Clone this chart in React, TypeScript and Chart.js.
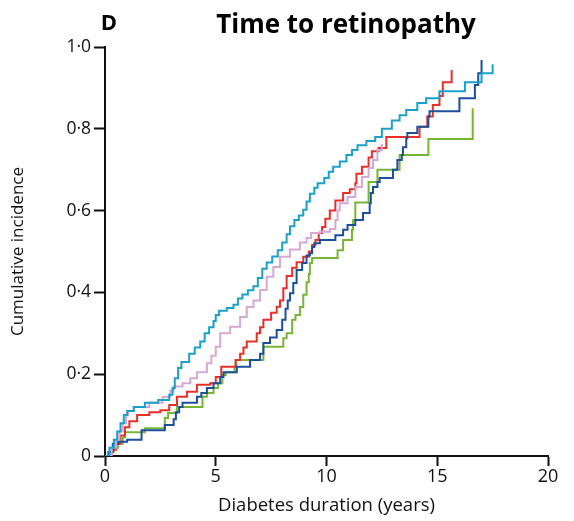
import React, { useEffect, useRef } from 'react';
import { Chart, registerables } from 'chart.js';

Chart.register(...registerables);

// Cumulative incidence step curves: jump times (years) and the value reached at each jump
const cyanTimes = [0, 0.2, 0.4, 0.55, 0.7, 0.85, 1.0, 1.3, 1.8, 2.4, 2.9, 3.05, 3.15, 3.3, 3.45, 3.8, 4.05, 4.3, 4.5, 4.7, 4.9, 5.0, 5.15, 5.5, 5.8, 6.0, 6.2, 6.45, 6.7, 6.9, 7.1, 7.3, 7.55, 7.8, 8.0, 8.2, 8.35, 8.55, 8.75, 8.95, 9.1, 9.25, 9.45, 9.6, 9.9, 10.1, 10.3, 10.6, 10.9, 11.15, 11.4, 11.8, 12.2, 12.5, 12.95, 13.3, 13.6, 14.1, 14.5, 15.1, 16.25, 17.0, 17.5];
const cyanValues = [0, 0.02, 0.04, 0.06, 0.08, 0.1, 0.11, 0.12, 0.13, 0.137, 0.15, 0.166, 0.19, 0.215, 0.23, 0.25, 0.265, 0.28, 0.3, 0.315, 0.33, 0.345, 0.355, 0.362, 0.37, 0.385, 0.395, 0.405, 0.415, 0.435, 0.458, 0.473, 0.488, 0.503, 0.522, 0.542, 0.562, 0.577, 0.588, 0.602, 0.622, 0.641, 0.656, 0.667, 0.68, 0.695, 0.707, 0.72, 0.736, 0.748, 0.76, 0.77, 0.78, 0.8, 0.82, 0.833, 0.846, 0.863, 0.875, 0.892, 0.914, 0.936, 0.958];

const pinkTimes = [0, 0.3, 0.5, 0.65, 0.8, 0.95, 1.05, 1.3, 2.0, 2.6, 2.95, 3.1, 3.5, 3.85, 4.15, 4.6, 4.8, 5.0, 5.2, 5.65, 6.1, 6.4, 6.7, 7.0, 7.3, 7.6, 7.9, 8.35, 8.8, 9.1, 9.3, 9.7, 10.15, 10.4, 10.5, 10.6, 10.95, 11.3, 11.6, 11.9, 12.1, 12.3, 12.5];
const pinkValues = [0, 0.02, 0.04, 0.06, 0.08, 0.1, 0.11, 0.12, 0.13, 0.144, 0.16, 0.17, 0.178, 0.19, 0.205, 0.227, 0.245, 0.267, 0.3, 0.316, 0.34, 0.364, 0.38, 0.406, 0.438, 0.462, 0.487, 0.505, 0.522, 0.533, 0.545, 0.548, 0.555, 0.577, 0.6, 0.618, 0.633, 0.658, 0.682, 0.704, 0.724, 0.748, 0.763];

const redTimes = [0, 0.3, 0.5, 0.7, 0.9, 1.1, 1.45, 2.0, 2.5, 2.9, 3.25, 3.7, 4.15, 4.75, 5.0, 5.25, 5.9, 6.1, 6.25, 6.4, 6.85, 7.0, 7.15, 7.5, 7.75, 7.9, 8.05, 8.2, 8.45, 8.65, 8.95, 9.2, 9.35, 9.5, 9.65, 9.8, 9.95, 10.15, 10.4, 10.75, 11.05, 11.3, 11.35, 11.6, 11.9, 12.05, 12.35, 12.7, 14.2, 14.55, 14.8, 15.1, 15.25, 15.65];
const redValues = [0, 0.015, 0.03, 0.05, 0.07, 0.085, 0.1, 0.107, 0.112, 0.125, 0.145, 0.157, 0.174, 0.178, 0.193, 0.218, 0.235, 0.25, 0.265, 0.28, 0.3, 0.315, 0.333, 0.35, 0.365, 0.38, 0.41, 0.44, 0.46, 0.474, 0.487, 0.5, 0.516, 0.528, 0.545, 0.56, 0.58, 0.6, 0.625, 0.643, 0.652, 0.667, 0.69, 0.707, 0.73, 0.745, 0.753, 0.78, 0.805, 0.83, 0.858, 0.88, 0.914, 0.944];

const navyTimes = [0, 0.15, 0.35, 0.6, 1.0, 1.65, 2.7, 3.1, 3.2, 3.35, 3.5, 4.15, 4.35, 4.6, 4.9, 5.2, 5.35, 5.95, 6.55, 7.0, 7.15, 7.45, 7.75, 8.0, 8.15, 8.25, 8.35, 8.5, 8.65, 8.9, 9.1, 9.25, 9.35, 9.45, 9.7, 10.4, 10.75, 10.95, 11.3, 11.65, 11.95, 12.0, 12.1, 12.3, 12.4, 13.0, 13.2, 13.4, 13.45, 13.6, 13.65, 14.1, 14.6, 14.65, 16.0, 16.7, 16.85, 17.0];
const navyValues = [0, 0.01, 0.03, 0.035, 0.04, 0.063, 0.076, 0.09, 0.107, 0.12, 0.13, 0.145, 0.154, 0.166, 0.178, 0.193, 0.205, 0.218, 0.235, 0.25, 0.276, 0.29, 0.308, 0.333, 0.36, 0.38, 0.398, 0.423, 0.455, 0.472, 0.49, 0.496, 0.511, 0.52, 0.528, 0.54, 0.553, 0.565, 0.577, 0.594, 0.618, 0.643, 0.658, 0.67, 0.68, 0.7, 0.724, 0.736, 0.755, 0.777, 0.79, 0.805, 0.83, 0.843, 0.875, 0.907, 0.936, 0.968];

const greenTimes = [0, 0.2, 0.4, 0.6, 0.8, 0.9, 1.8, 2.7, 2.85, 3.25, 4.4, 4.6, 4.9, 5.1, 5.3, 5.45, 5.85, 5.9, 7.15, 8.05, 8.2, 8.45, 8.6, 8.8, 8.95, 9.1, 9.2, 9.25, 9.35, 10.5, 10.75, 11.15, 11.2, 11.3, 11.9, 12.3, 13.3, 14.6, 16.6];
const greenValues = [0, 0.01, 0.02, 0.03, 0.045, 0.058, 0.068, 0.093, 0.105, 0.12, 0.145, 0.154, 0.166, 0.178, 0.198, 0.205, 0.218, 0.235, 0.267, 0.288, 0.3, 0.333, 0.345, 0.364, 0.394, 0.425, 0.445, 0.472, 0.484, 0.503, 0.528, 0.553, 0.577, 0.62, 0.67, 0.7, 0.736, 0.775, 0.85];

const xTickValues = [0, 5, 10, 15, 20];
const xTickLabels = ['0', '5', '10', '15', '20'];
const yTickValues = [0, 0.2, 0.4, 0.6, 0.8, 1.0];
const yTickLabels = ['0', '0·2', '0·4', '0·6', '0·8', '1·0'];

const panelLetter = 'D';
const chartTitle = 'Time to retinopathy';
const xAxisTitle = 'Diabetes duration (years)';
const yAxisTitle = 'Cumulative incidence';

const FONT = '"Open Sans", "Noto Sans", sans-serif';

const toPoints = (times: number[], values: number[]) =>
  times.map((t, i) => ({ x: t, y: values[i] }));

const headingPlugin = {
  id: 'heading',
  afterDraw(chart: Chart) {
    const { ctx } = chart;
    ctx.save();
    ctx.fillStyle = '#000';
    ctx.textBaseline = 'alphabetic';
    ctx.textAlign = 'center';
    ctx.font = `bold 22px ${FONT}`;
    ctx.fillText(panelLetter, 109, 30);
    ctx.font = `bold 26px ${FONT}`;
    ctx.fillText(chartTitle, 346, 33);
    ctx.restore();
  },
};

export default function App() {
  const canvasRef = useRef<HTMLCanvasElement | null>(null);

  useEffect(() => {
    document.body.style.margin = '0';
    const canvas = canvasRef.current;
    if (!canvas) return;

    const series = [
      { label: 'Cyan', color: '#1aa1cb', times: cyanTimes, values: cyanValues },
      { label: 'Pink', color: '#d6a9d3', times: pinkTimes, values: pinkValues },
      { label: 'Navy', color: '#1c4f9c', times: navyTimes, values: navyValues },
      { label: 'Red', color: '#e8302a', times: redTimes, values: redValues },
      { label: 'Green', color: '#79b535', times: greenTimes, values: greenValues },
    ];

    const chart = new Chart(canvas, {
      type: 'line',
      data: {
        datasets: series.map((s) => ({
          label: s.label,
          data: toPoints(s.times, s.values),
          borderColor: s.color,
          backgroundColor: s.color,
          borderWidth: 2,
          pointRadius: 0,
          stepped: true,
          fill: false,
        })),
      },
      options: {
        animation: false,
        responsive: false,
        devicePixelRatio: 1,
        layout: { padding: { top: 47, right: 26, left: 0, bottom: 0 } },
        plugins: {
          legend: { display: false },
          title: { display: false },
          tooltip: { enabled: false },
        },
        scales: {
          x: {
            type: 'linear',
            min: 0,
            max: 20,
            afterFit: (scale: any) => {
              scale.height = 65;
            },
            afterBuildTicks: (scale: any) => {
              scale.ticks = xTickValues.map((v) => ({ value: v }));
            },
            ticks: {
              callback: (v: any) => xTickLabels[xTickValues.indexOf(Number(v))] ?? '',
              font: { family: FONT, size: 18 },
              color: '#111',
              padding: 0,
              maxRotation: 0,
            },
            grid: {
              drawOnChartArea: false,
              drawTicks: true,
              tickLength: 10,
              tickWidth: 2,
              tickColor: '#111',
            },
            border: { display: true, color: '#111', width: 2 },
            title: {
              display: true,
              text: xAxisTitle,
              font: { family: FONT, size: 18.5 },
              color: '#111',
              padding: { top: 0, bottom: 4 },
            },
          },
          y: {
            type: 'linear',
            min: 0,
            max: 1,
            afterFit: (scale: any) => {
              scale.width = 105;
            },
            afterBuildTicks: (scale: any) => {
              scale.ticks = yTickValues.map((v) => ({ value: v }));
            },
            ticks: {
              callback: (v: any) => {
                const i = yTickValues.findIndex((t) => Math.abs(t - Number(v)) < 1e-6);
                return i >= 0 ? yTickLabels[i] : '';
              },
              font: { family: FONT, size: 17.5 },
              color: '#111',
              padding: 3,
            },
            grid: {
              drawOnChartArea: false,
              drawTicks: true,
              tickLength: 11,
              tickWidth: 2,
              tickColor: '#111',
            },
            border: { display: true, color: '#111', width: 2 },
            title: {
              display: true,
              text: yAxisTitle,
              font: { family: FONT, size: 17 },
              color: '#111',
              padding: { top: 8, bottom: 0 },
            },
          },
        },
      },
      plugins: [headingPlugin],
    });

    return () => chart.destroy();
  }, []);

  return (
    <div style={{ width: 574, height: 521 }}>
      <canvas ref={canvasRef} width={574} height={521} style={{ width: 574, height: 521 }} />
    </div>
  );
}
